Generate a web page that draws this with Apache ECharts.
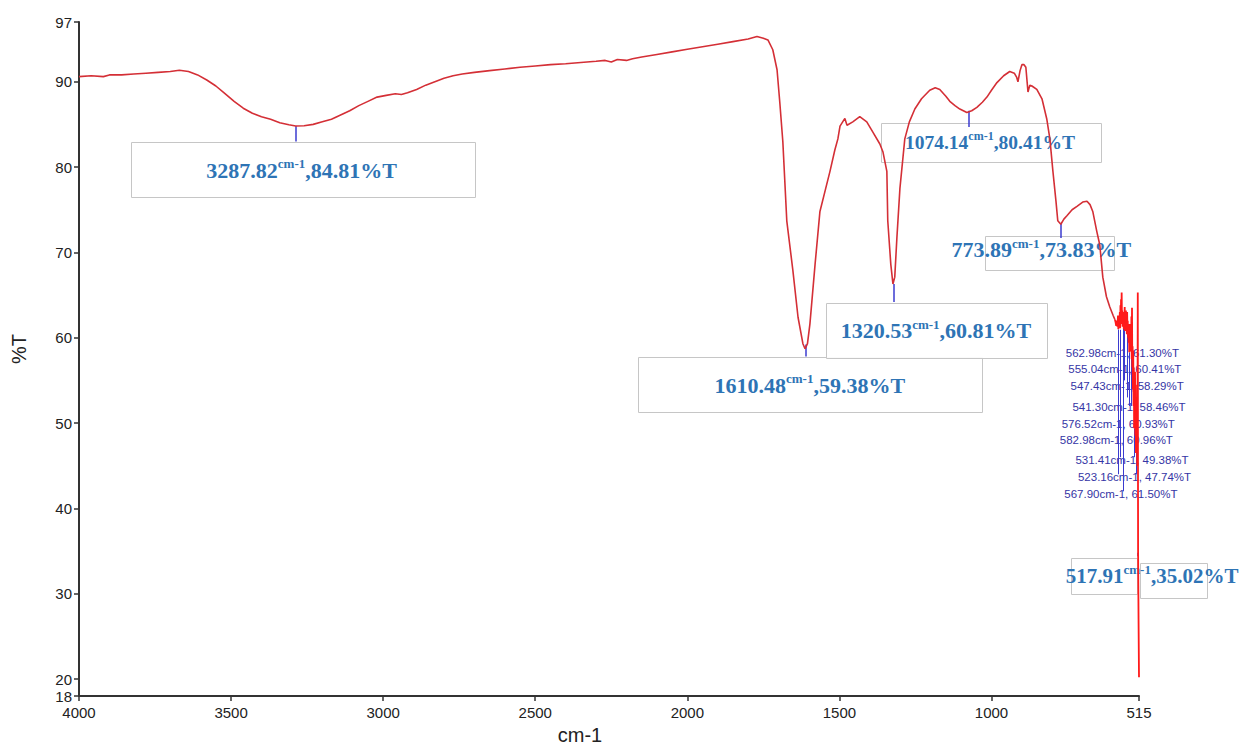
<!DOCTYPE html>
<html>
<head>
<meta charset="utf-8">
<script src="https://cdn.jsdelivr.net/npm/echarts@6/dist/echarts.min.js"></script>
<style>
html,body{margin:0;padding:0;background:#fff;}
#chart{width:1244px;height:750px;}
</style>
</head>
<body>
<div id="chart"></div>
<script>
// ---------------- data ----------------
const wavenumbers = [
  4000,3960,3920,3900,3860,3820,3780,3740,3700,3670,3640,3610,3580,3550,3520,3490,3460,3430,3400,3370,3340,3310,3287.82,3260,3230,3200,3170,3140,3110,3080,3050,3020,2990,2960,2940,2920,2890,2860,2830,2800,2770,2740,2700,2650,2600,2550,2500,2450,2400,2350,2300,2270,2250,2230,2200,2180,2150,2100,2050,2000,1950,1900,1850,1800,1771,1750,1735,1719,1705,1696,1686,1673,1653,1636,1620,1613,1605,1597,1580,1564,1545,1531,1515,1505,1498,1482,1475,1456,1433,1410,1390,1367,1357,1344,1341,1331,1324,1318,1311,1301,1285,1270,1252,1230,1203,1185,1170,1150,1137,1120,1104,1081,1065,1048,1030,1015,1000,982,960,940,925,917,913,906,900,893,887,880,874,867,851,834,818,808,798,788,782,772,762,752,735,719,700,686,676,667,654,644,634,622,611,600,594,
  592,590,588,586,584,583,582,580,578,577,576,575,574,573,572,571,570,569,568,567,566,565,564,563,562,561,560,559,558,557,556,555,554,553,552,551,550,549,548,547,546,545,544,543,542,541,540,539,538,537,536,535,534,533,532,531,530,529,528,527,526,525,524,523,522,521,520,519,518,516.5,515
];
const transmittance = [
  90.6,90.7,90.6,90.8,90.8,90.9,91.0,91.1,91.2,91.35,91.2,90.8,90.2,89.5,88.6,87.7,86.9,86.3,85.9,85.6,85.2,84.95,84.81,84.85,85.0,85.3,85.6,86.1,86.6,87.2,87.7,88.2,88.4,88.6,88.5,88.7,89.1,89.6,90.0,90.4,90.7,90.9,91.1,91.3,91.5,91.7,91.85,92.0,92.1,92.25,92.4,92.5,92.3,92.6,92.5,92.7,92.9,93.2,93.5,93.8,94.1,94.4,94.7,95.0,95.3,95.1,94.9,93.75,91.4,87.6,83.0,73.7,67.9,62.4,59.3,58.7,59.3,61.6,68.6,74.8,77.5,79.5,82.0,83.3,84.8,85.7,84.9,85.3,85.9,85.3,84.1,82.7,81.8,79.5,73.7,68.6,66.3,67.1,71.7,77.5,83.3,85.3,86.8,88.0,89.0,89.3,89.1,88.3,87.7,87.2,86.8,86.4,86.6,87.0,87.6,88.2,89.0,89.9,90.7,91.2,91.0,90.5,90.0,91.3,92.0,92.0,91.7,88.8,89.6,89.5,89.1,88.0,85.6,83.3,79.5,76.0,73.7,73.3,73.9,74.3,75.0,75.4,75.9,76.0,75.6,74.8,72.5,70.9,67.1,64.8,63.6,62.6,62.1,
  61.8,61.4,62.0,61.3,62.6,61.0,62.2,61.2,63.0,61.1,63.8,61.6,64.5,62.0,65.3,61.8,63.2,61.3,62.6,61.5,63.0,61.0,62.2,61.3,63.6,60.8,62.6,61.4,63.2,60.9,62.4,60.4,63.0,61.0,62.0,60.0,61.6,59.4,61.0,58.3,60.6,59.0,61.6,58.4,60.2,58.5,62.5,57.5,63.5,56.5,59.0,54.0,58.5,52.0,56.5,49.4,55.5,51.0,56.0,48.5,54.5,46.5,52.0,47.7,53.0,45.0,50.0,65.3,35.0,27.0,20.2
];

const xTickValues = [4000, 3500, 3000, 2500, 2000, 1500, 1000, 515];
const yTickValues = [18, 20, 30, 40, 50, 60, 70, 80, 90, 97];

// labelled peaks (large boxes)
const peakWn = [3287.82, 1610.48, 1320.53, 1074.14, 773.89, 517.91];
const peakT  = [84.81, 59.38, 60.81, 80.41, 73.83, 35.02];
const peakMarkTop    = [84.81, 59.2, 66.3, 86.6, 73.45, 34.8];
const peakMarkBottom = [83.0, 57.8, 64.2, 84.7, 71.7, 34.4];

// labelled peaks (small list)
const smallWn = [562.98, 555.04, 547.43, 541.30, 576.52, 582.98, 531.41, 523.16, 567.90];
const smallT  = [61.30, 60.41, 58.29, 58.46, 60.93, 60.96, 49.38, 47.74, 61.50];
const smallMarkBottom = [55.0, 53.0, 52.0, 52.0, 46.0, 44.0, 46.0, 44.0, 42.0];

// wavenumber where the noisy low-frequency part begins (drawn in brighter red)
const noisyFrom = 594;

// ---------------- layout (pixels, relative to the labelled point) ----------------
const bigBoxLayout = [
  {boxes: [[-165, 16, 344, 55]], text: [6, 44], size: 22},
  {boxes: [[-168, 14, 344, 55]], text: [4, 42], size: 22},
  {boxes: [[-68, -28, 221, 55]], text: [42, 0], size: 22},
  {boxes: [[-88, -41, 220, 39]], text: [21, -21], size: 19.5},
  {boxes: [[-75, 16, 129, 34]], text: [-19, 30], size: 22},
  {boxes: [[-67, 7, 66, 36], [2, 12, 67, 35]], text: [14, 25], size: 21}
];
const smallLabelY = [353, 369, 386, 407, 424, 440, 460, 477, 494];

// ---------------- chart ----------------
const FONT = '"Liberation Sans", Arial, sans-serif';
const SERIF = '"Liberation Serif", "Times New Roman", serif';
const chart = echarts.init(document.getElementById('chart'), null, {renderer: 'svg'});

const spectrum = wavenumbers.map((w, i) => [w, transmittance[i]]);
const mainPart = spectrum.filter(d => d[0] >= noisyFrom);
const noisyPart = spectrum.filter(d => d[0] <= noisyFrom);

const markLines = [];
peakWn.forEach((w, i) => {
  markLines.push([{coord: [w, peakMarkTop[i]], lineStyle: {width: 1.5}}, {coord: [w, peakMarkBottom[i]]}]);
});
smallWn.forEach((w, i) => {
  markLines.push([{coord: [w, smallT[i]], lineStyle: {width: 1}}, {coord: [w, smallMarkBottom[i]]}]);
});

chart.setOption({
  animation: false,
  backgroundColor: '#ffffff',
  grid: {left: 79, right: 105, top: 22, bottom: 47, containLabel: false},
  xAxis: {
    type: 'value', inverse: true, min: 515, max: 4000,
    name: 'cm-1', nameLocation: 'middle', nameGap: 24,
    nameTextStyle: {fontSize: 20, color: '#222', fontFamily: FONT, padding: [0, 58, 0, 0]},
    axisLine: {show: true, lineStyle: {color: '#333', width: 2}},
    axisTick: {show: true, length: 5, customValues: xTickValues, lineStyle: {color: '#333', width: 1.5}},
    axisLabel: {customValues: xTickValues, color: '#222', fontSize: 15, fontFamily: FONT, margin: 9,
      formatter: v => String(v)},
    splitLine: {show: false}
  },
  yAxis: {
    type: 'value', min: 18, max: 97,
    name: '%T', nameLocation: 'middle', nameGap: 50, nameRotate: 90,
    nameTextStyle: {fontSize: 20, color: '#222', fontFamily: FONT, padding: [0, 0, 0, 20]},
    axisLine: {show: true, lineStyle: {color: '#333', width: 2}},
    axisTick: {show: true, length: 5, customValues: yTickValues, lineStyle: {color: '#333', width: 1.5}},
    axisLabel: {customValues: yTickValues, color: '#222', fontSize: 15, fontFamily: FONT, margin: 7,
      formatter: v => String(v)},
    splitLine: {show: false}
  },
  series: [{
    type: 'line',
    data: mainPart,
    showSymbol: false,
    symbol: 'none',
    lineStyle: {color: '#d42f36', width: 1.6},
    z: 3,
    markLine: {
      silent: true,
      z: 2,
      symbol: ['none', 'none'],
      label: {show: false},
      lineStyle: {color: '#3b3bcf', width: 1.5, type: 'solid'},
      data: markLines
    }
  }, {
    type: 'line',
    data: noisyPart,
    showSymbol: false,
    symbol: 'none',
    lineStyle: {color: '#ff1a1a', width: 1.8},
    z: 4
  }]
});

// annotations
const graphics = [];
const blue = '#2e74b5';
peakWn.forEach((w, i) => {
  const p = chart.convertToPixel({gridIndex: 0}, [w, peakT[i]]);
  const lay = bigBoxLayout[i];
  lay.boxes.forEach(b => {
    graphics.push({
      type: 'rect', z: 0, silent: true,
      shape: {x: Math.round(p[0] + b[0]) + 0.5, y: Math.round(p[1] + b[1]) + 0.5, width: b[2], height: b[3]},
      style: {fill: 'rgba(255,255,255,0.9)', stroke: '#c6c6c6', lineWidth: 1}
    });
  });
  graphics.push({
    type: 'text', z: 1, silent: true,
    x: p[0] + lay.text[0], y: p[1] + lay.text[1],
    style: {
      text: '{n|' + w.toFixed(2) + '}{s|cm-1}{n|,' + peakT[i].toFixed(2) + '%T}',
      align: 'center', verticalAlign: 'middle',
      rich: {
        n: {fontSize: lay.size, fontWeight: 'bold', fontFamily: SERIF, fill: blue, lineHeight: 26},
        s: {fontSize: Math.round(lay.size * 0.6), fontWeight: 'bold', fontFamily: SERIF, fill: blue, lineHeight: 15, verticalAlign: 'top'}
      }
    }
  });
});
smallWn.forEach((w, i) => {
  const p = chart.convertToPixel({gridIndex: 0}, [w, smallT[i]]);
  graphics.push({
    type: 'text', z: 1, silent: true,
    x: p[0] - 2, y: smallLabelY[i],
    style: {
      text: w.toFixed(2) + 'cm-1, ' + smallT[i].toFixed(2) + '%T',
      align: 'center', verticalAlign: 'middle',
      fontSize: 11.5, fontFamily: FONT, fill: '#3535a5'
    }
  });
});
chart.setOption({graphic: graphics});
</script>
</body>
</html>
